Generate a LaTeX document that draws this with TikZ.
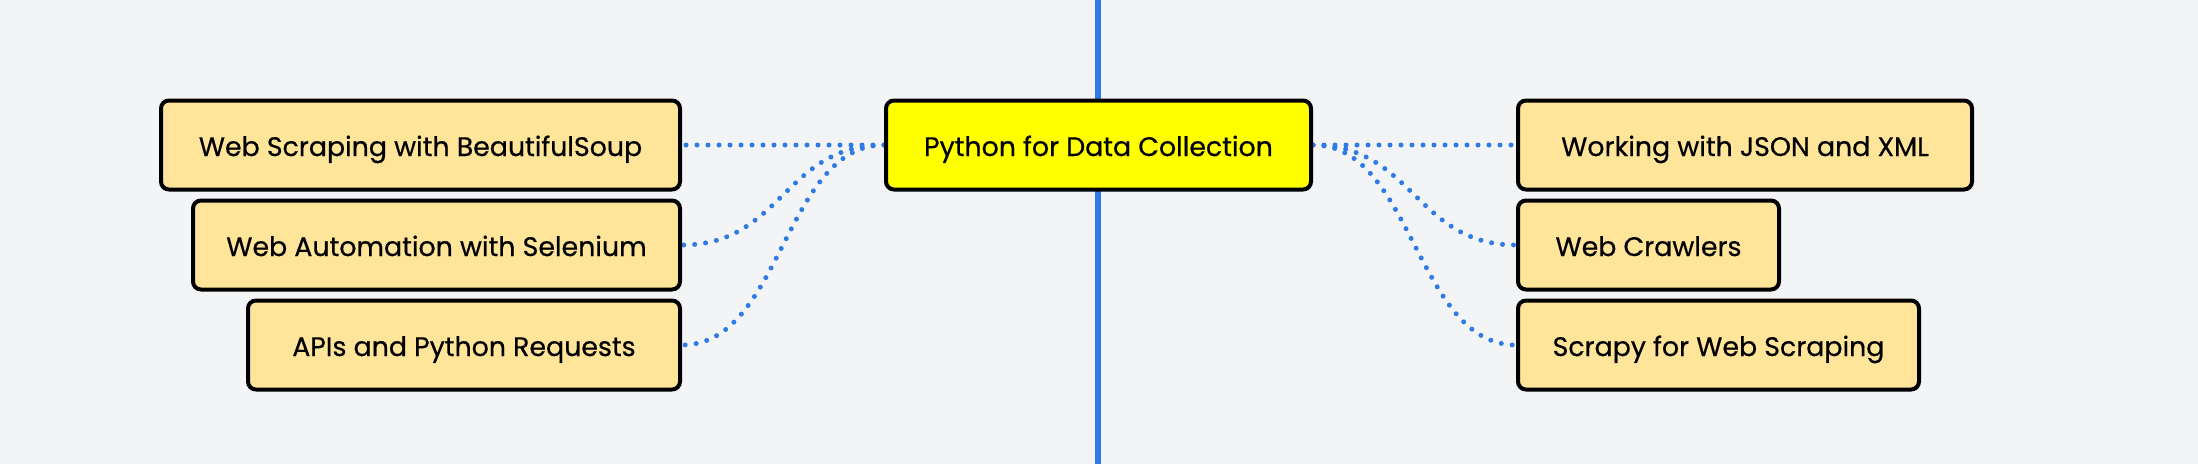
\documentclass[tikz,border=0pt]{standalone}
\usepackage{fontspec}
\setmainfont{Poppins}[UprightFeatures={FakeBold=0.6}]
\definecolor{bgc}{HTML}{F3F4F6}
\definecolor{boxfill}{HTML}{FFE599}
\definecolor{rootfill}{HTML}{FFFF00}
\definecolor{linkblue}{HTML}{2E7BE6}
\pgfdeclarelayer{back}
\pgfdeclarelayer{links}
\pgfsetlayers{back,links,main}
\begin{document}
\begin{tikzpicture}[x=1pt,y=-1pt,
  box/.style={draw=black, line width=4pt, rounded corners=8pt, fill=boxfill,
    minimum height=89pt, inner sep=0pt, text height=25pt, text depth=3pt,
    font=\fontsize{26.8}{30}\selectfont},
  rootbox/.style={box, fill=rootfill},
  link/.style={draw=linkblue, line width=5pt, line cap=round, dash pattern=on 0pt off 11pt},
  axis/.style={draw=linkblue, line width=6pt}]
\begin{pgfonlayer}{back}
\fill[bgc] (0,0) rectangle (2198,464);
\end{pgfonlayer}
\useasboundingbox (0,0) rectangle (2198,464);
\coordinate (top) at (1098,0);
\coordinate (bot) at (1098,464);
\begin{pgfonlayer}{back}
\draw[axis] (top) -- (bot);
\end{pgfonlayer}

\node[rootbox, minimum width=425pt] (C) at (1098.5,145) {Python for Data Collection};

\node[box, minimum width=519pt] (L1) at (420.5,145) {Web Scraping with BeautifulSoup};
\node[box, minimum width=487pt] (L2) at (436.5,245) {Web Automation with Selenium};
\node[box, minimum width=432pt] (L3) at (464,345) {APIs and Python Requests};

\node[box, minimum width=454pt] (R1) at (1745,145) {Working with JSON and XML};
\node[box, minimum width=261pt] (R2) at (1648.5,245) {Web Crawlers};
\node[box, minimum width=401pt] (R3) at (1718.5,345) {Scrapy for Web Scraping};

\begin{pgfonlayer}{links}
\draw[link] (C.west) -- (L1.east);
\draw[link] (C.west) .. controls +(-100,0) and +(100,0) .. (L2.east);
\draw[link] (C.west) .. controls +(-100,0) and +(100,0) .. (L3.east);
\draw[link] (C.east) -- (R1.west);
\draw[link] (C.east) .. controls +(100,0) and +(-100,0) .. (R2.west);
\draw[link] (C.east) .. controls +(100,0) and +(-100,0) .. (R3.west);
\end{pgfonlayer}
\end{tikzpicture}
\end{document}
